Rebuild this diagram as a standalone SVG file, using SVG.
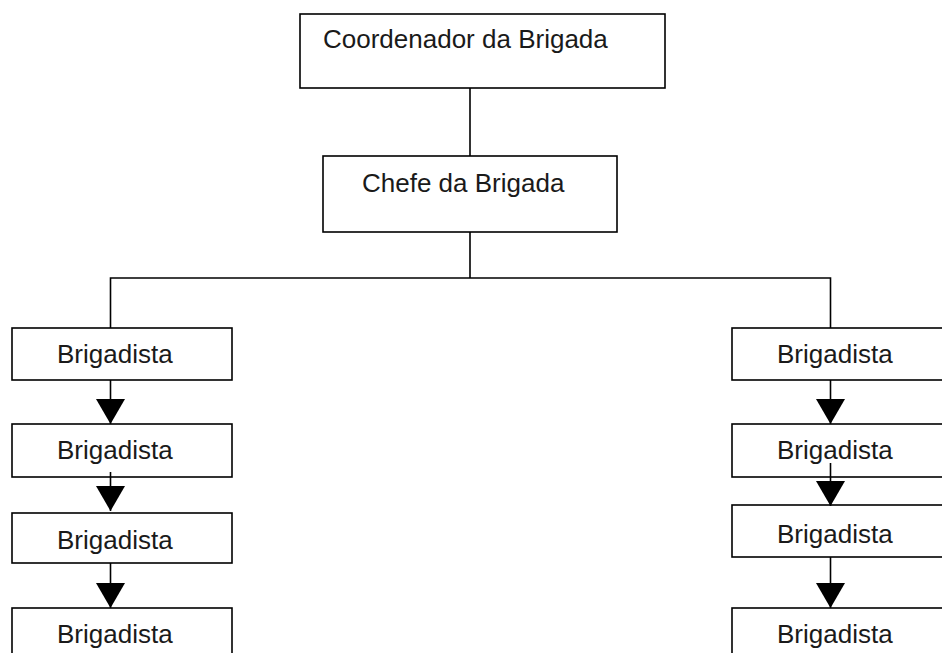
<svg xmlns="http://www.w3.org/2000/svg" width="942" height="653" viewBox="0 0 942 653">
<style>
.box{fill:#fff;stroke:#000;stroke-width:1.6}
.t{font-family:"Liberation Sans",Arial,sans-serif;font-size:26px;fill:#1a1a1a}
.c{fill:none;stroke:#000;stroke-width:1.6}
</style>
<defs>
<marker id="ah" markerUnits="userSpaceOnUse" markerWidth="25" markerHeight="29" refX="25" refY="14.5" orient="auto" viewBox="0 0 25 29">
<path d="M0,0 L25,14.5 L0,29 Z" fill="#000"/>
</marker>
</defs>
<rect width="942" height="653" fill="#fff"/>
<g id="n-coord"><rect class="box" x="300" y="14" width="365" height="74"/><text class="t" x="323" y="48">Coordenador da Brigada</text></g>
<g id="n-chefe"><rect class="box" x="323" y="156" width="294" height="76"/><text class="t" x="362" y="192">Chefe da Brigada</text></g>
<g id="n-l1"><rect class="box" x="12" y="328" width="220" height="52"/><text class="t" x="57" y="363">Brigadista</text></g>
<g id="n-l2"><rect class="box" x="12" y="424" width="220" height="53"/><text class="t" x="57" y="459">Brigadista</text></g>
<g id="n-l3"><rect class="box" x="12" y="513" width="220" height="50"/><text class="t" x="57" y="549">Brigadista</text></g>
<g id="n-l4"><rect class="box" x="12" y="608" width="220" height="60"/><text class="t" x="57" y="643">Brigadista</text></g>
<g id="n-r1"><rect class="box" x="732" y="328" width="230" height="52"/><text class="t" x="777" y="363">Brigadista</text></g>
<g id="n-r2"><rect class="box" x="732" y="424" width="230" height="53"/><text class="t" x="777" y="459">Brigadista</text></g>
<g id="n-r3"><rect class="box" x="732" y="505" width="230" height="52"/><text class="t" x="777" y="543">Brigadista</text></g>
<g id="n-r4"><rect class="box" x="732" y="608" width="230" height="60"/><text class="t" x="777" y="643">Brigadista</text></g>
<g id="connectors">
<path class="c" d="M470,88 V156"/>
<path class="c" d="M470,232 V278 M110.5,278 H830.5 M110.5,277.2 V328 M830.5,277.2 V328"/>
<path class="c" d="M110.5,380 V424" marker-end="url(#ah)"/>
<path class="c" d="M110.5,472 V511" marker-end="url(#ah)"/>
<path class="c" d="M110.5,563 V608" marker-end="url(#ah)"/>
<path class="c" d="M830.5,380 V424" marker-end="url(#ah)"/>
<path class="c" d="M830.5,463 V506" marker-end="url(#ah)"/>
<path class="c" d="M830.5,557 V608" marker-end="url(#ah)"/>
</g>
</svg>
